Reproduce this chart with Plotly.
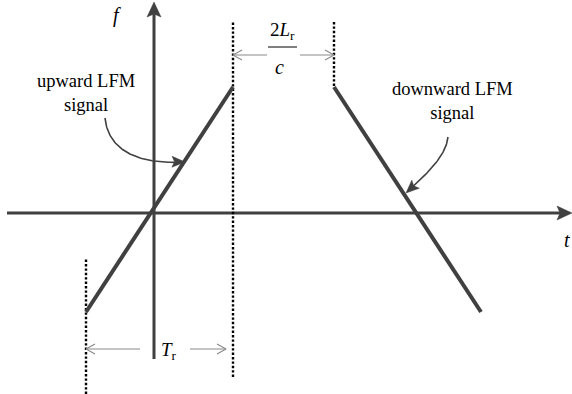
import numpy as np
import plotly.graph_objects as go

# Time/frequency diagram of an up-chirp and its delayed down-chirp echo.
# Units: drawing units with the origin at the crossing of the t and f axes.
T_r = 147            # sweep duration
delay = 101          # round-trip delay 2L_r / c
t_start = -68        # start time of the upward sweep
f_low, f_high = -99, 126

up_t = [t_start, t_start + T_r]
up_f = [f_low, f_high]
down_t = [t_start + T_r + delay, t_start + 2 * T_r + delay]
down_f = [f_high, f_low]

t_axis = [-147, 418]
f_axis = [-146, 211]

# dotted time markers: position, top, bottom
mark_t = [t_start, t_start + T_r, t_start + T_r + delay]
mark_top = [-45, 191, 191]
mark_bottom = [-181, -164, 127]

# dimension arrows: (tip t, tail t, level f)
dim_arrows = [(mark_t[1], 113, 158), (mark_t[2], 146, 158),
              (mark_t[0], -14, -136), (72, 36, -136)]

# curved pointer arrows (cubic Bezier control points)
up_curve = [(-49, 95), (-46, 65), (-20, 48), (31, 51)]
down_curve = [(294, 76), (292, 55), (268, 35), (252, 20)]

labels_up = "upward LFM<br>signal"
labels_down = "downward LFM<br>signal"

DARK = "#404040"
GREY = "#8a8a8a"
SERIF = "Liberation Serif, Times New Roman, serif"


def bezier(pts, s):
    p = np.array(pts, dtype=float)
    s = np.asarray(s)[:, None]
    return ((1 - s) ** 3 * p[0] + 3 * (1 - s) ** 2 * s * p[1]
            + 3 * (1 - s) * s ** 2 * p[2] + s ** 3 * p[3])


def seg(fig, xs, ys, color, width, dash=None):
    fig.add_trace(go.Scatter(x=xs, y=ys, mode="lines", hoverinfo="skip",
                             line=dict(color=color, width=width, dash=dash)))


def head(fig, tip, frm, length, half, notch, color):
    """Filled arrowhead at `tip`, pointing away from `frm`."""
    tip = np.asarray(tip, float)
    d = tip - np.asarray(frm, float)
    d /= np.hypot(*d)
    n = np.array([-d[1], d[0]])
    base = tip - d * length
    pts = [tip, base + n * half, base + d * notch, base - n * half, tip]
    pts = np.array(pts)
    fig.add_trace(go.Scatter(x=pts[:, 0], y=pts[:, 1], mode="lines",
                             fill="toself", fillcolor=color, hoverinfo="skip",
                             line=dict(color=color, width=0.5)))


fig = go.Figure()

# axes with arrowheads
seg(fig, [t_axis[0], t_axis[1] - 8], [0, 0], DARK, 3)
seg(fig, [0, 0], [f_axis[0], f_axis[1] - 8], DARK, 3)
head(fig, (t_axis[1], 0), (0, 0), 15, 7, 3, DARK)
head(fig, (0, f_axis[1]), (0, 0), 15, 7, 3, DARK)

# dotted markers
for t, top, bot in zip(mark_t, mark_top, mark_bottom):
    seg(fig, [t, t], [bot, top], "black", 2.4, "2.4px,2px")

# chirps
seg(fig, up_t, up_f, DARK, 4)
seg(fig, down_t, down_f, DARK, 4)

# curved pointers with filled heads
s = np.linspace(0, 0.93, 60)
for pts in (up_curve, down_curve):
    c = bezier(pts, s)
    seg(fig, c[:, 0], c[:, 1], DARK, 1.6)
    head(fig, pts[3], bezier(pts, [0.8])[0], 13, 5.5, 2.5, DARK)

# thin dimension arrows with open heads
for tip, tail, lvl in dim_arrows:
    d = np.sign(tip - tail)
    seg(fig, [tail, tip], [lvl, lvl], GREY, 1.1)
    seg(fig, [tip - d * 9, tip, tip - d * 9], [lvl + 5, lvl, lvl - 5], GREY, 1.1)

# fraction bar for 2L_r / c
seg(fig, [114, 143], [166, 166], "black", 1)

ann = []


def label(x, y, text, size=18):
    ann.append(dict(x=x, y=y, xref="x", yref="y", text=text, showarrow=False,
                    font=dict(family=SERIF, size=size, color="black"),
                    xanchor="center", yanchor="middle"))


label(-37, 198, "<i>f</i>", 20)
label(413, -27, "<i>t</i>", 20)
label(-68, 120, labels_up, 18.5)
label(298, 112, labels_down, 18.5)
label(128, 182, "2<i>L</i><sub>r</sub>", 19)
label(125, 146, "<i>c</i>", 20)
label(15, -138, "<i>T</i><sub>r</sub>", 19)

fig.update_layout(
    width=572, height=394, margin=dict(l=0, r=0, t=0, b=0),
    paper_bgcolor="white", plot_bgcolor="white", showlegend=False,
    xaxis=dict(range=[-154, 418], visible=False, fixedrange=True),
    yaxis=dict(range=[-181, 213], visible=False, fixedrange=True),
    annotations=ann,
)

fig.write_html("out.html")
